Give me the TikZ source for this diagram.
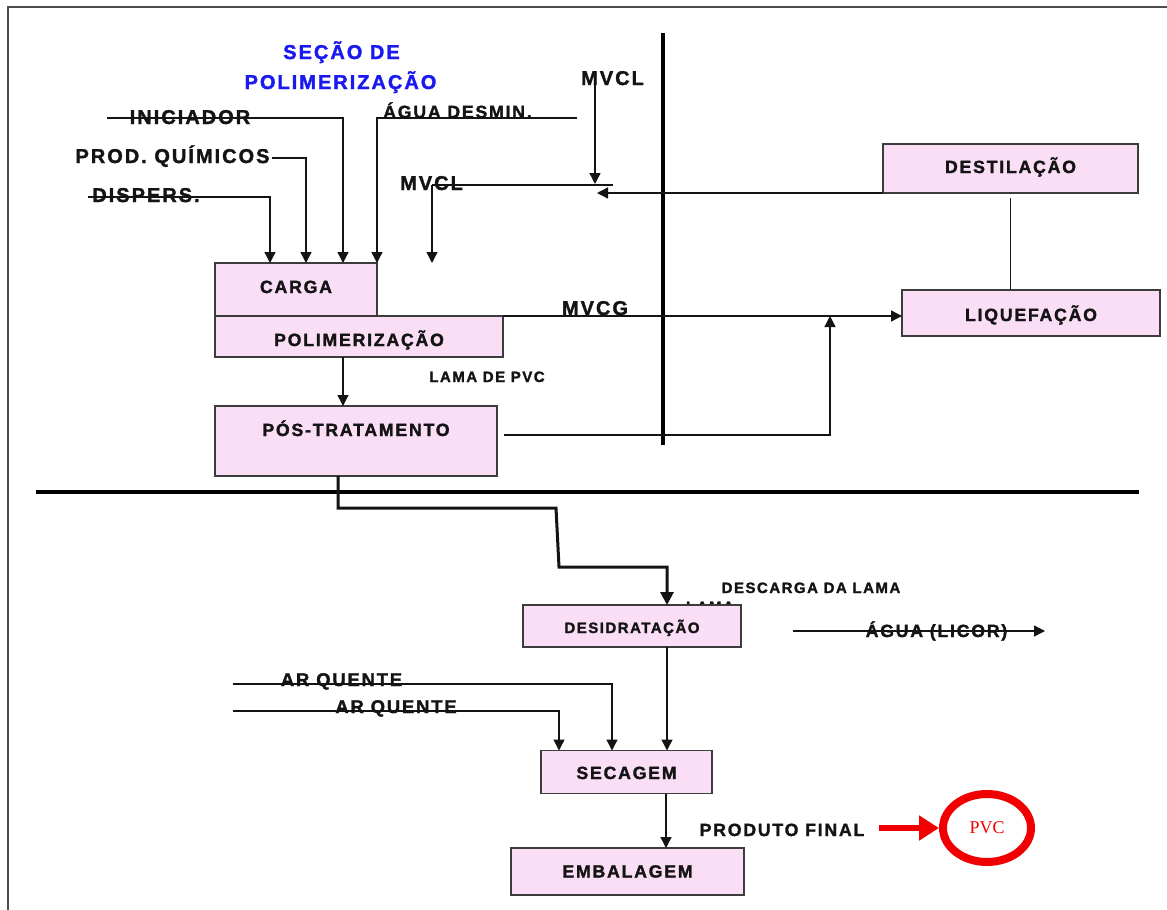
\documentclass[tikz,border=0pt]{standalone}
\usepackage{fontspec}
\setmainfont{Liberation Sans}
\newfontfamily\lsp[LetterSpace=10,FakeBold=1.6]{Liberation Sans Bold}
\newfontfamily\pvcfont{Liberation Serif}
\usetikzlibrary{arrows.meta,shapes.geometric,calc}
\definecolor{boxfill}{RGB}{250,222,246}
\definecolor{boxdraw}{RGB}{60,60,60}
\definecolor{titleblue}{RGB}{25,25,240}
\definecolor{pvcred}{RGB}{240,0,0}
\definecolor{inkc}{RGB}{20,20,20}
\begin{document}
\begin{tikzpicture}[x=1pt,y=-1pt,
  lab/.style={font=\lsp\fontsize{20}{23}\selectfont, text=inkc, inner sep=0pt, outer sep=0pt, anchor=base},
  labm/.style={lab, font=\lsp\fontsize{17.7}{20}\selectfont},
  labs/.style={lab, font=\lsp\fontsize{15}{17}\selectfont},
  ttl/.style={lab, text=titleblue},
  box/.style={draw=boxdraw, fill=boxfill, line width=1.7pt, inner sep=0pt, outer sep=0pt,
    text=inkc, font=\lsp\fontsize{17.7}{20}\selectfont},
  ln/.style={draw=inkc, line width=1.4pt},
  arr/.style={-{Triangle[length=11pt,width=11pt]}},
  thk/.style={draw=inkc, line width=3pt},
  sep/.style={draw=black, line width=4.8pt},
  frm/.style={draw=black!70, line width=1.5pt}
]
\useasboundingbox (0,0) rectangle (1167,910);

% frame and separators
\coordinate (f0) at (8,910);
\coordinate (f1) at (8,7);
\coordinate (f2) at (1167,7);
\draw[frm] (f0) -- (f1) -- (f2);
\coordinate (v0) at (663,33);
\coordinate (v1) at (663,445);
\draw[sep] (v0) -- (v1);
\coordinate (h0) at (36,492);
\coordinate (h1) at (1139,492);
\draw[sep] (h0) -- (h1);

% title
\node[ttl] (t1) at (341.5,59) {SEÇÃO DE};
\node[ttl] (t2) at (340.5,89) {POLIMERIZAÇÃO};

% boxes
\node[box, minimum width=162, minimum height=53, text height=13pt, text depth=6pt] (carga) at (296,289.5) {CARGA};
\node[box, minimum width=288, minimum height=41, text height=19pt, text depth=0pt] (pol) at (359,336.5) {POLIMERIZAÇÃO};
\node[box, minimum width=282, minimum height=70, text height=13pt, text depth=23pt] (pos) at (356,441) {PÓS-TRATAMENTO};
\node[box, minimum width=255, minimum height=49, text height=13pt, text depth=4pt] (dest) at (1010.5,168.5) {DESTILAÇÃO};
\node[box, minimum width=258, minimum height=46, text height=16pt, text depth=0pt] (liq) at (1031,313) {LIQUEFAÇÃO};
\node[labs] (lama2) at (710,612) {LAMA};
\node[box, minimum width=218, minimum height=42, text height=14pt, text depth=0pt,
  font=\lsp\fontsize{15}{17}\selectfont] (desid) at (632,626) {DESIDRATAÇÃO};
\node[box, minimum width=171, minimum height=43, text height=14pt, text depth=0pt] (sec) at (626.5,772) {SECAGEM};
\node[box, minimum width=233, minimum height=47, text height=12pt, text depth=0pt] (emb) at (627.5,871.5) {EMBALAGEM};
\node[draw=pvcred, ellipse, line width=8pt, minimum width=88, minimum height=68, inner sep=0pt,
  text=pvcred, font=\pvcfont\fontsize{18}{20}\selectfont] (pvc) at (987,828) {PVC};

% labels
\node[lab] (ini) at (190,124) {INICIADOR};
\node[lab] (prod) at (172.5,163) {PROD. QUÍMICOS};
\node[lab] (disp) at (146,202) {DISPERS.};
\node[labm] (agua) at (457.5,118) {ÁGUA DESMIN.};
\node[lab] (mvcl1) at (612.5,85) {MVCL};
\node[lab] (mvcl2) at (431.5,190) {MVCL};
\node[lab] (mvcg) at (595,315) {MVCG};
\node[labs] (lama) at (487,382) {LAMA DE PVC};
\node[labs] (desc) at (811,593) {DESCARGA DA LAMA};
\node[labm] (licor) at (936.5,637) {ÁGUA (LICOR)};
\node[labm, font=\lsp\fontsize{18.4}{21}\selectfont] (ar1) at (341.5,686) {AR QUENTE};
\node[labm, font=\lsp\fontsize{18.4}{21}\selectfont] (ar2) at (396,713) {AR QUENTE};
\node[labm] (prodf) at (782,836) {PRODUTO FINAL};

% coordinates
\coordinate (cdis) at (88,197);
\coordinate (cprod) at (272,158);
\coordinate (cini) at (107,118);
\coordinate (cagua) at (577,118);
\coordinate (xd1) at (270,0);
\coordinate (xd2) at (306,0);
\coordinate (xd3) at (343,0);
\coordinate (xm) at (595,0);
\coordinate (jn) at (595,184);
\coordinate (mvr) at (613,185);
\coordinate (mvl) at (432,185);
\coordinate (dtip) at (597,0);
\coordinate (p0) at (504,435);
\coordinate (xup) at (830,0);
\coordinate (xl) at (343,0);
\coordinate (xq) at (338,0);
\coordinate (q1) at (338,508);
\coordinate (q2) at (556,508);
\coordinate (q3) at (559,567);
\coordinate (q4) at (667,567);
\coordinate (xv) at (667,0);
\coordinate (car1) at (233,684);
\coordinate (car2) at (233,711);
\coordinate (xa1) at (612,0);
\coordinate (xa2) at (559,0);
\coordinate (xe) at (666,0);
\coordinate (l0) at (793,631);
\coordinate (l1) at (1045,631);
\coordinate (r0) at (879,828);

% connectors
\draw[ln,arr] (cdis) -| (xd1 |- carga.north);
\draw[ln,arr] (cprod) -| (xd2 |- carga.north);
\draw[ln,arr] (cini) -| (xd3 |- carga.north);
\draw[ln,arr] (cagua) -| (carga.north east);
\draw[ln,arr] (xm |- mvcl1.base) -- (jn);
\draw[ln] (mvr) -- (mvl);
\draw[ln,arr] (mvl) -- (mvl |- carga.north);
\draw[ln,arr] (dest.south west) -- (dest.south west -| dtip);
\draw[ln] ([yshift=-5pt]dest.south) -- (liq.north -| dest.south);
\draw[ln,arr] (pol.north east) -- (pol.north east -| liq.west);
\draw[ln,arr] (p0) -| (xup |- pol.north);
\draw[ln,arr] (xl |- pol.south) -- (xl |- pos.north);
\draw[thk,-{Triangle[length=13pt,width=13pt]}] (xq |- pos.south) -- (q1) -- (q2) -- (q3) -- (q4) -- (xv |- desid.north);
\draw[ln,arr] (xv |- desid.south) -- (xv |- sec.north);
\draw[ln,arr] (car1) -| (xa1 |- sec.north);
\draw[ln,arr] (car2) -| (xa2 |- sec.north);
\draw[ln,arr] (xe |- sec.south) -- (xe |- emb.north);
\draw[ln,arr] (l0) -- (l1);
\draw[draw=pvcred, line width=6pt, -{Triangle[length=20pt,width=24pt]}] (r0) -- (pvc.west);
\end{tikzpicture}
\end{document}
